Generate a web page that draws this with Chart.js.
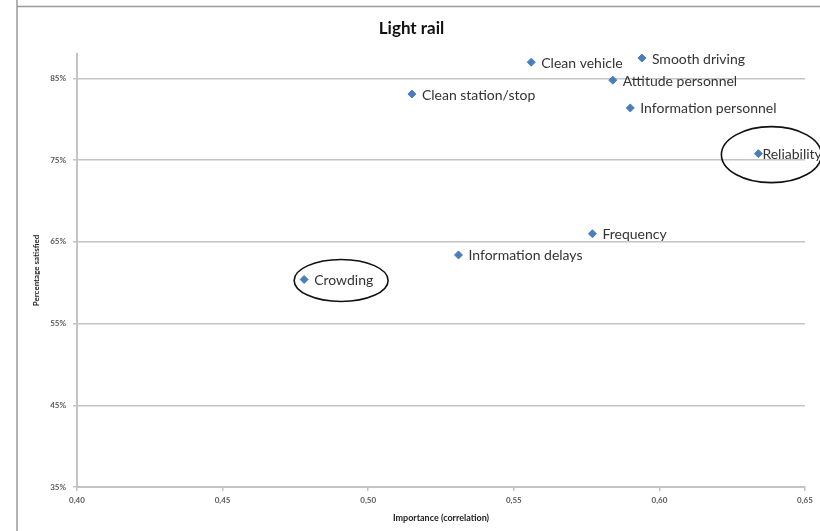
<!DOCTYPE html>
<html>
<head>
<meta charset="utf-8">
<script src="https://cdn.jsdelivr.net/npm/chart.js@4/dist/chart.umd.min.js"></script>
<style>
  html, body { margin: 0; padding: 0; background: #fff; }
  #wrap { width: 820px; height: 531px; }
</style>
</head>
<body>
<div id="wrap"><canvas id="chart" width="820" height="531"></canvas></div>
<script>
// data
const categories = ['Clean vehicle', 'Smooth driving', 'Attitude personnel', 'Information personnel',
    'Clean station/stop', 'Reliability', 'Frequency', 'Information delays', 'Crowding'];
const importance = [0.556, 0.594, 0.584, 0.590, 0.515, 0.634, 0.577, 0.531, 0.478];
const satisfied = [0.870, 0.875, 0.848, 0.814, 0.831, 0.758, 0.660, 0.634, 0.604];
const circled = ['Crowding', 'Reliability'];

const xTicks = [0.40, 0.45, 0.50, 0.55, 0.60, 0.65];
const yTicks = [0.35, 0.45, 0.55, 0.65, 0.75, 0.85];

const blue = '#4a7ebb';
const grid = '#c4c4c4';
const tickText = '#595959';

// hand drawn rings around two of the points
const rings = {
    'Crowding': { dx: 37, rx: 47, ry: 21 },
    'Reliability': { dx: 13, rx: 50, ry: 28 }
};

/* ================= FRAME + POINT LABELS + CIRCLES ====================== */
const decor = {
    id: 'decor',
    beforeDraw(c) {
        const ctx = c.ctx;
        ctx.save();
        ctx.strokeStyle = '#9a9a9a';
        ctx.lineWidth = 1.5;
        ctx.beginPath();
        ctx.moveTo(17, 0); ctx.lineTo(17, c.height);
        ctx.moveTo(17, 6.5); ctx.lineTo(c.width, 6.5);
        ctx.stroke();
        ctx.restore();
    },
    afterDatasetsDraw(c) {
        const ctx = c.ctx;
        const meta = c.getDatasetMeta(0);
        ctx.save();
        ctx.font = '14px Lato';
        ctx.fillStyle = '#333';
        ctx.textBaseline = 'middle';
        meta.data.forEach((pt, i) => {
            const name = categories[i];
            const gap = name === 'Reliability' ? 4 : 10;
            ctx.fillText(name, pt.x + gap, pt.y + 1);
            if (circled.includes(name)) {
                const r = rings[name];
                ctx.beginPath();
                ctx.strokeStyle = '#111';
                ctx.lineWidth = 1.6;
                ctx.ellipse(pt.x + r.dx, pt.y + 1, r.rx, r.ry, 0, 0, Math.PI * 2);
                ctx.stroke();
            }
        });
        ctx.restore();
    }
};

new Chart(document.querySelector('#chart'), {
    type: 'scatter',
    data: {
        datasets: [{
            data: importance.map((x, i) => ({ x: x, y: satisfied[i] })),
            backgroundColor: blue,
            borderColor: blue,
            pointStyle: 'rectRot',
            pointRadius: 4,
            pointHoverRadius: 4
        }]
    },
    options: {
        responsive: false,
        animation: false,
        layout: { padding: { left: 18, right: 15, top: 18, bottom: 0 } },
        plugins: {
            legend: { display: false },
            tooltip: { enabled: false },
            title: {
                display: true,
                text: 'Light rail',
                color: '#111',
                font: { family: 'Lato', size: 17, weight: 'bold' },
                padding: { top: 0, bottom: 15.6 }
            }
        },
        scales: {
            x: {
                type: 'linear',
                min: 0.40,
                max: 0.65,
                afterBuildTicks: s => { s.ticks = xTicks.map(v => ({ value: v })); },
                afterFit: s => { s.height = 44; },
                border: { color: grid, width: 2 },
                grid: { drawOnChartArea: false, drawTicks: true, tickLength: 4, color: grid, lineWidth: 1.5 },
                ticks: {
                    padding: 5,
                    color: tickText,
                    font: { family: 'Lato', size: 8, weight: 'bold' },
                    callback: v => v.toFixed(2).replace('.', ',')
                },
                title: {
                    display: true,
                    text: 'Importance (correlation)',
                    color: '#222',
                    font: { family: 'Lato', size: 9, weight: 'bold' },
                    padding: { top: 0, bottom: 7.5 }
                }
            },
            y: {
                type: 'linear',
                min: 0.35,
                max: 0.88,
                afterBuildTicks: s => { s.ticks = yTicks.map(v => ({ value: v })); },
                afterFit: s => { s.width = 59; },
                border: { color: grid, width: 2 },
                grid: { drawTicks: true, tickLength: 4, color: grid, lineWidth: 1.5 },
                ticks: {
                    padding: 7,
                    color: tickText,
                    font: { family: 'Lato', size: 8, weight: 'bold' },
                    callback: v => Math.round(v * 100) + '%'
                },
                title: {
                    display: true,
                    text: 'Percentage satisfied',
                    color: '#222',
                    font: { family: 'Lato', size: 8, weight: 'bold' },
                    padding: { top: 14, bottom: 0 }
                }
            }
        }
    },
    plugins: [decor]
});
</script>
</body>
</html>
